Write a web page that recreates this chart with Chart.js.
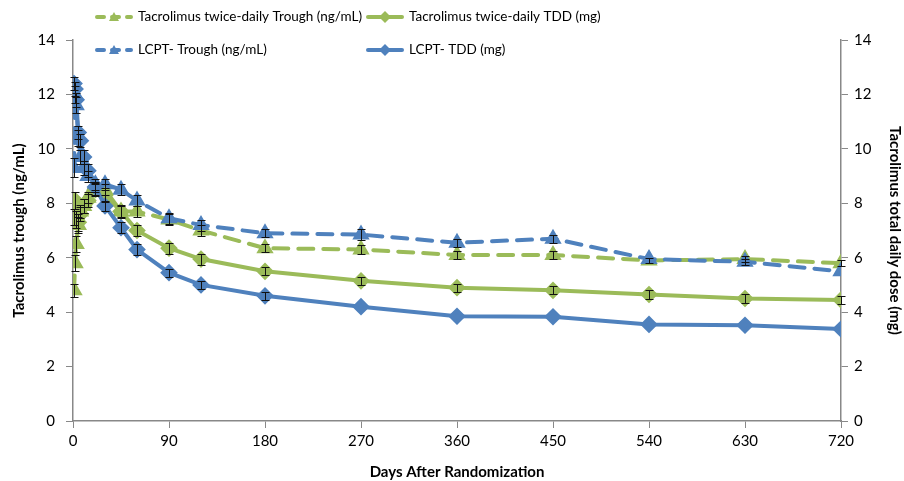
<!DOCTYPE html>
<html>
<head>
<meta charset="utf-8">
<script src="https://cdn.jsdelivr.net/npm/chart.js@4.4.1/dist/chart.umd.min.js"></script>
<style>
  html, body { margin: 0; padding: 0; background: #fff; }
  #wrap { width: 904px; height: 481px; position: relative; }
</style>
</head>
<body>
<div id="wrap"><canvas id="line-chart"></canvas></div>
<script>
// days after randomization
const days = [1, 2, 3, 5, 7, 10, 14, 21, 30, 45, 60, 90, 120, 180, 270, 360, 450, 540, 630, 720];

// Tacrolimus twice-daily
const tacTrough = [4.8, 5.8, 6.5, 7.2, 7.7, 7.9, 8.2, 8.5, 8.5, 7.7, 7.7, 7.4, 7.0, 6.35, 6.3, 6.1, 6.1, 5.9, 5.95, 5.8];
const tacTroughErr = [0.25, 0.3, 0.3, 0.3, 0.25, 0.25, 0.2, 0.2, 0.2, 0.2, 0.2, 0.2, 0.2, 0.15, 0.15, 0.15, 0.15, 0.1, 0.1, 0.1];
const tacTdd = [7.5, 8.1, 7.4, 7.3, 7.6, 7.9, 8.1, 8.5, 8.3, 7.7, 7.0, 6.35, 5.95, 5.5, 5.15, 4.9, 4.8, 4.65, 4.5, 4.45];
const tacTddErr = [0.3, 0.3, 0.3, 0.3, 0.25, 0.25, 0.25, 0.25, 0.25, 0.25, 0.2, 0.2, 0.2, 0.15, 0.15, 0.15, 0.15, 0.15, 0.15, 0.15];

// LCPT
const lcptTrough = [9.3, 12.0, 11.6, 10.4, 9.7, 9.3, 9.0, 8.7, 8.7, 8.5, 8.1, 7.45, 7.2, 6.9, 6.85, 6.55, 6.7, 5.95, 5.85, 5.5];
const lcptTroughErr = [0.35, 0.3, 0.3, 0.3, 0.25, 0.25, 0.2, 0.2, 0.2, 0.2, 0.2, 0.2, 0.2, 0.15, 0.2, 0.15, 0.15, 0.0, 0.1, 0.0];
const lcptTdd = [12.4, 12.2, 11.8, 10.6, 10.3, 9.7, 9.2, 8.6, 7.9, 7.1, 6.3, 5.45, 5.0, 4.6, 4.2, 3.85, 3.83, 3.55, 3.52, 3.38];
const lcptTddErr = [0.25, 0.25, 0.25, 0.25, 0.25, 0.25, 0.25, 0.2, 0.2, 0.2, 0.2, 0.15, 0.15, 0.15, 0.0, 0.0, 0.0, 0.0, 0.0, 0.0];

const xTicks = [0, 90, 180, 270, 360, 450, 540, 630, 720];

const green = '#9BBB59';
const blue = '#4F81BD';
const font = 'Lato';

const pts = arr => arr.map((v, i) => ({ x: days[i], y: v }));

// error bars drawn from the scales
const errorBars = {
  id: 'errorBars',
  afterDatasetsDraw(chart) {
    const ctx = chart.ctx;
    ctx.save();
    ctx.strokeStyle = '#111';
    ctx.lineWidth = 1;
    chart.data.datasets.forEach((ds, di) => {
      const meta = chart.getDatasetMeta(di);
      const ys = chart.scales[ds.yAxisID];
      ds.data.forEach((p, i) => {
        const e = ds.err[i];
        if (!e) return;
        const x = Math.round(meta.data[i].x) + 0.5;
        const y1 = Math.round(ys.getPixelForValue(p.y - e)) + 0.5;
        const y2 = Math.round(ys.getPixelForValue(p.y + e)) + 0.5;
        ctx.beginPath();
        ctx.moveTo(x, y1); ctx.lineTo(x, y2);
        ctx.moveTo(x - 4, y1); ctx.lineTo(x + 4, y1);
        ctx.moveTo(x - 4, y2); ctx.lineTo(x + 4, y2);
        ctx.stroke();
      });
    });
    ctx.restore();
  }
};

// 2x2 legend overlapping top of the chart
const legend2 = {
  id: 'legend2',
  afterDraw(chart) {
    const ctx = chart.ctx;
    const items = [
      { t: 'Tacrolimus twice-daily Trough (ng/mL)', c: green, dash: true, m: 'tri', x: 97, y: 17 },
      { t: 'Tacrolimus twice-daily TDD (mg)', c: green, dash: false, m: 'dia', x: 368, y: 17 },
      { t: 'LCPT- Trough (ng/mL)', c: blue, dash: true, m: 'tri', x: 97, y: 50 },
      { t: 'LCPT- TDD (mg)', c: blue, dash: false, m: 'dia', x: 368, y: 50 }
    ];
    ctx.save();
    items.forEach(it => {
      ctx.strokeStyle = it.c;
      ctx.fillStyle = it.c;
      ctx.lineWidth = 4;
      ctx.lineCap = 'round';
      ctx.setLineDash(it.dash ? [7, 8] : []);
      ctx.beginPath();
      ctx.moveTo(it.x, it.y); ctx.lineTo(it.x + 34, it.y);
      ctx.stroke();
      ctx.setLineDash([]);
      const cx = it.x + 17;
      ctx.beginPath();
      if (it.m === 'tri') {
        ctx.moveTo(cx, it.y - 5); ctx.lineTo(cx + 5, it.y + 4); ctx.lineTo(cx - 5, it.y + 4);
      } else {
        ctx.moveTo(cx, it.y - 6); ctx.lineTo(cx + 6, it.y); ctx.lineTo(cx, it.y + 6); ctx.lineTo(cx - 6, it.y);
      }
      ctx.closePath();
      ctx.fill();
      ctx.fillStyle = '#000';
      ctx.font = '13.5px ' + font;
      ctx.textBaseline = 'middle';
      ctx.fillText(it.t, it.x + 41, it.y);
    });
    ctx.restore();
  }
};

new Chart(document.getElementById('line-chart'), {
  type: 'line',
  data: {
    datasets: [
      { label: 'LCPT- TDD (mg)', data: pts(lcptTdd), err: lcptTddErr, yAxisID: 'y2',
        borderColor: blue, backgroundColor: blue, borderWidth: 4,
        pointStyle: 'rectRot', pointRadius: 6, pointHoverRadius: 6 },
      { label: 'Tacrolimus twice-daily TDD (mg)', data: pts(tacTdd), err: tacTddErr, yAxisID: 'y2',
        borderColor: green, backgroundColor: green, borderWidth: 4,
        pointStyle: 'rectRot', pointRadius: 6, pointHoverRadius: 6 },
      { label: 'LCPT- Trough (ng/mL)', data: pts(lcptTrough), err: lcptTroughErr, yAxisID: 'y',
        borderColor: blue, backgroundColor: blue, borderWidth: 4, borderDash: [15, 10], borderCapStyle: 'round',
        pointStyle: 'triangle', pointRadius: 6, pointHoverRadius: 6 },
      { label: 'Tacrolimus twice-daily Trough (ng/mL)', data: pts(tacTrough), err: tacTroughErr, yAxisID: 'y',
        borderColor: green, backgroundColor: green, borderWidth: 4, borderDash: [15, 10], borderCapStyle: 'round',
        pointStyle: 'triangle', pointRadius: 6, pointHoverRadius: 6 }
    ]
  },
  options: {
    responsive: true,
    maintainAspectRatio: false,
    animation: false,
    layout: { padding: { top: 40, left: 0, right: 0, bottom: 0 } },
    plugins: { legend: { display: false }, tooltip: { enabled: false } },
    scales: {
      x: {
        type: 'linear', min: 0, max: 720,
        afterFit: s => { s.height = 60; },
        afterBuildTicks: s => { s.ticks = xTicks.map(v => ({ value: v })); },
        border: { color: '#888', width: 1.5 },
        grid: { drawOnChartArea: false, color: '#888', tickLength: 7 },
        ticks: { color: '#000', font: { family: font, size: 15 }, padding: 4, maxRotation: 0 },
        title: { display: true, text: 'Days After Randomization', color: '#000',
          font: { family: font, size: 15, weight: 'bold' }, padding: { top: 12, bottom: 0 } }
      },
      y: {
        position: 'left', min: 0, max: 14,
        afterFit: s => { s.width = 73; },
        border: { color: '#888', width: 1.5 },
        grid: { drawOnChartArea: false, color: '#888', tickLength: 7 },
        ticks: { stepSize: 2, color: '#000', font: { family: font, size: 15 }, padding: 11 },
        title: { display: true, text: 'Tacrolimus trough (ng/mL)', color: '#000',
          font: { family: font, size: 15, weight: 'bold' }, padding: { top: 10, bottom: 0 } }
      },
      y2: {
        position: 'right', min: 0, max: 14,
        afterFit: s => { s.width = 63; },
        border: { color: '#888', width: 1.5 },
        grid: { drawOnChartArea: false, color: '#888', tickLength: 7 },
        ticks: { stepSize: 2, color: '#000', font: { family: font, size: 15 }, padding: 6 },
        title: { display: true, text: 'Tacrolimus total daily dose (mg)', color: '#000',
          font: { family: font, size: 15, weight: 'bold' }, padding: 0 }
      }
    }
  },
  plugins: [errorBars, legend2]
});
</script>
</body>
</html>
